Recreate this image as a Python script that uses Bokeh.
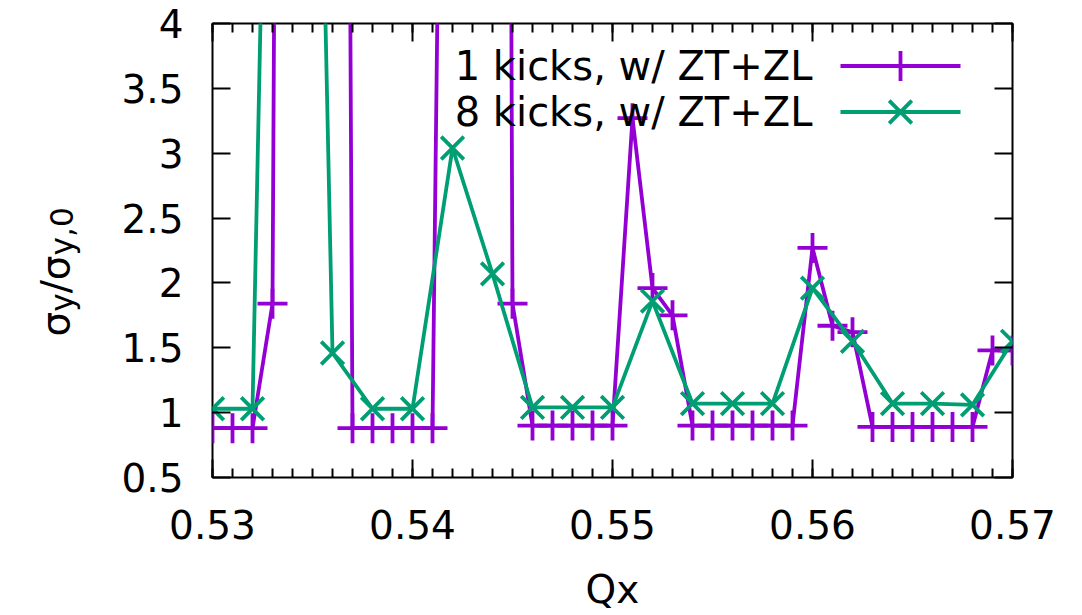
from math import pi

from bokeh.core.properties import value
from bokeh.embed import file_html
from bokeh.layouts import row
from bokeh.models import FixedTicker, Label, LinearAxis
from bokeh.plotting import figure
from bokeh.resources import INLINE

# ---- data -----------------------------------------------------------------
# beam-size growth vs. horizontal tune, 1 kick per turn (w/ ZT+ZL)
qx_1kick = [0.530, 0.531, 0.532, 0.533, 0.534, 0.535, 0.536, 0.537, 0.538, 0.539,
            0.540, 0.541, 0.542, 0.543, 0.544, 0.545, 0.546, 0.547, 0.548, 0.549,
            0.550, 0.551, 0.552, 0.553, 0.554, 0.555, 0.556, 0.557, 0.558, 0.559,
            0.560, 0.561, 0.562, 0.563, 0.564, 0.565, 0.566, 0.567, 0.568, 0.569,
            0.570]
ratio_1kick = [0.88, 0.88, 0.88, 1.84, 30.0, 30.0, 30.0, 0.88, 0.88, 0.88,
               0.88, 0.88, 14.0, 25.0, 40.0, 1.84, 0.90, 0.90, 0.90, 0.90,
               0.90, 3.27, 1.96, 1.75, 0.90, 0.90, 0.90, 0.90, 0.90, 0.90,
               2.27, 1.67, 1.62, 0.89, 0.89, 0.89, 0.89, 0.89, 0.89, 1.48,
               1.48]

# 8 kicks per turn (w/ ZT+ZL)
qx_8kick = [0.530, 0.532, 0.534, 0.536, 0.538, 0.540, 0.542, 0.544, 0.546, 0.548,
            0.550, 0.552, 0.554, 0.556, 0.558, 0.560, 0.562, 0.564, 0.566, 0.568,
            0.570]
ratio_8kick = [1.03, 1.03, 16.0, 1.46, 1.03, 1.03, 3.04, 2.07, 1.04, 1.04,
               1.04, 1.86, 1.07, 1.07, 1.07, 1.96, 1.55, 1.07, 1.07, 1.06,
               1.55]

series_labels = ["1 kicks, w/ ZT+ZL", "8 kicks, w/ ZT+ZL"]

x_ticks = [0.53, 0.54, 0.55, 0.56, 0.57]
x_tick_labels = ["0.53", "0.54", "0.55", "0.56", "0.57"]
y_ticks = [0.5, 1.0, 1.5, 2.0, 2.5, 3.0, 3.5, 4.0]
y_tick_labels = ["0.5", "1", "1.5", "2", "2.5", "3", "3.5", "4"]

# ---- layout / style ---------------------------------------------------------
W, H = 1082, 615
TITLE_W = 100                      # strip holding the rotated y title
FRAME_L, FRAME_R, FRAME_T, FRAME_B = 212, 1012, 23, 477
X0, X1 = 0.53, 0.57
Y0, Y1 = 0.5, 4.0
FONT = "DejaVu Sans"
FS = 39
KEY_FS = 40
PURPLE = "#9400d3"
GREEN = "#009e73"
LW = 3.8

p = figure(width=W - TITLE_W, height=H, x_range=(X0, X1), y_range=(Y0, Y1),
           output_backend="svg", toolbar_location=None,
           x_axis_location=None, y_axis_location=None,
           min_border_left=FRAME_L - TITLE_W, min_border_right=W - FRAME_R,
           min_border_top=FRAME_T, min_border_bottom=H - FRAME_B,
           background_fill_color="white", border_fill_color="white")
p.grid.visible = False
p.outline_line_color = "black"
p.outline_line_width = 2
p.outline_line_alpha = 1.0

x_minor = [round(X0 + 0.001 * i, 3) for i in range(41)]

bottom_axis = LinearAxis()
top_axis = LinearAxis()
left_axis = LinearAxis()
right_axis = LinearAxis()
p.add_layout(bottom_axis, "below")
p.add_layout(top_axis, "above")
p.add_layout(left_axis, "left")
p.add_layout(right_axis, "right")

for ax in (bottom_axis, top_axis):
    ax.ticker = FixedTicker(ticks=x_ticks, minor_ticks=x_minor)
for ax in (left_axis, right_axis):
    ax.ticker = FixedTicker(ticks=y_ticks, minor_ticks=[])

bottom_axis.major_label_overrides = dict(zip(x_ticks, x_tick_labels))
left_axis.major_label_overrides = dict(zip(y_ticks, y_tick_labels))
# mirrored axes carry ticks only
top_axis.major_label_overrides = {t: "" for t in x_ticks}
right_axis.major_label_overrides = {t: "" for t in y_ticks}

for ax in (bottom_axis, top_axis, left_axis, right_axis):
    ax.axis_line_color = None
    ax.major_tick_in = 18
    ax.major_tick_out = 0
    ax.minor_tick_in = 9
    ax.minor_tick_out = 0
    ax.major_tick_line_width = 2
    ax.minor_tick_line_width = 2
    ax.major_tick_line_color = "black"
    ax.minor_tick_line_color = "black"
    ax.major_label_text_font = FONT
    ax.major_label_text_color = "black"

for ax in (bottom_axis, left_axis):
    ax.major_label_text_font_size = f"{FS}px"
bottom_axis.major_label_standoff = 32
left_axis.major_label_standoff = 29
for ax in (top_axis, right_axis):
    ax.major_label_text_font_size = "1px"
    ax.major_label_standoff = 0

bottom_axis.axis_label = "Qx"
bottom_axis.axis_label_text_font = FONT
bottom_axis.axis_label_text_font_size = f"{FS}px"
bottom_axis.axis_label_text_font_style = "normal"
bottom_axis.axis_label_text_color = "black"
bottom_axis.axis_label_text_line_height = 1.0
bottom_axis.axis_label_standoff = 25

# ---- data series --------------------------------------------------------------
p.line(qx_1kick, ratio_1kick, line_color=PURPLE, line_width=LW)
p.scatter(qx_1kick, ratio_1kick, marker="cross", size=30,
          line_color=PURPLE, line_width=LW)
p.line(qx_8kick, ratio_8kick, line_color=GREEN, line_width=LW)
p.scatter(qx_8kick, ratio_8kick, marker="x", size=32,
          line_color=GREEN, line_width=LW)


# ---- key (text on the left, sample on the right) -------------------------------
def px_to_x(px):
    return X0 + (px - FRAME_L) / (FRAME_R - FRAME_L) * (X1 - X0)


def py_to_y(py):
    return Y0 + (FRAME_B - py) / (FRAME_B - FRAME_T) * (Y1 - Y0)


key_rows = [65.5, 111.5]
key_styles = [(PURPLE, "cross", 30), (GREEN, "x", 32)]
for label, krow, (col, mk, sz) in zip(series_labels, key_rows, key_styles):
    p.add_layout(Label(x=812 - FRAME_L, y=FRAME_B - krow, x_units="screen",
                       y_units="screen", text=label, text_align="right",
                       text_baseline="middle", text_font=FONT,
                       text_font_size=f"{KEY_FS}px", text_color="black"))
    p.line([px_to_x(840), px_to_x(960)], [py_to_y(krow)] * 2,
           line_color=col, line_width=LW)
    p.scatter([px_to_x(900)], [py_to_y(krow)], marker=mk, size=sz,
              line_color=col, line_width=LW)

# ---- rotated y title: sigma_y / sigma_{y,0} -----------------------------------
# a narrow strip whose data space equals its pixel space
side = figure(frame_width=TITLE_W, frame_height=H, x_range=(0, TITLE_W),
              y_range=(0, H), output_backend="svg", toolbar_location=None,
              x_axis_location=None, y_axis_location=None,
              min_border=0, outline_line_color=None,
              background_fill_color="white", border_fill_color="white")
side.grid.visible = False

SUB = 0.8 * FS
pieces = [("σ", FS, 0.634, 0), ("y", SUB, 0.592, 6), ("/", FS, 0.337, 0),
          ("σ", FS, 0.634, 0), ("y,0", SUB, 1.546, 6)]
base_x = 55
cursor = 313.0
for txt, size, adv, drop in pieces:
    side.text(x=[base_x + drop], y=[H - cursor], text=[txt], angle=pi / 2,
              text_align="left", text_baseline="alphabetic",
              text_font=value(FONT), text_font_size=value(f"{size:.1f}px"),
              text_color="black")
    cursor -= adv * size

layout = row(side, p, spacing=0)
open("out.html", "w").write(file_html(layout, INLINE))
